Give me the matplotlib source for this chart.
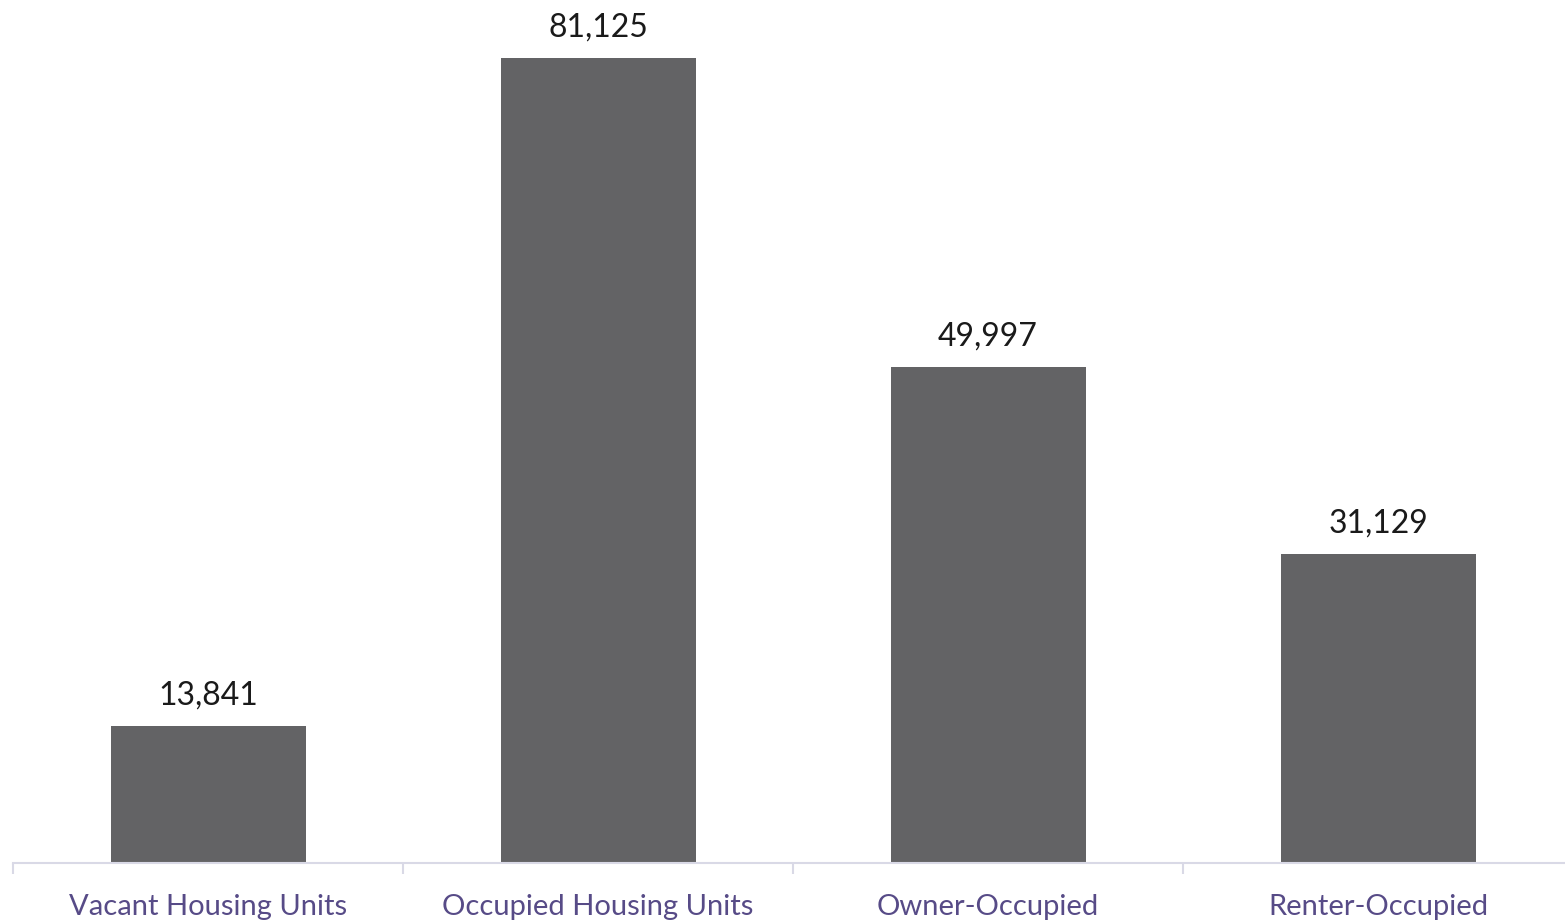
import matplotlib.pyplot as plt

categories = ["Vacant Housing Units", "Occupied Housing Units", "Owner-Occupied", "Renter-Occupied"]
values = [13841, 81125, 49997, 31129]

plt.rcParams['font.family'] = ['Lato', 'DejaVu Sans']

fig = plt.figure(figsize=(15.65, 9.22), dpi=100)
ax = fig.add_axes([13 / 1565, 59 / 922, 1560 / 1565, 863 / 922])

x = range(len(categories))
bars = ax.bar(x, values, width=0.5, color="#636365")

for xi, v in zip(x, values):
    ax.annotate(f"{v:,}", (xi, v), xytext=(0, 11), textcoords="offset points",
                ha="center", va="bottom", fontsize=23, color="#1a1a1a")

ax.set_xlim(-0.5, len(categories) - 0.5)
ax.set_ylim(0, 81125 * 863 / 805)

for side in ["top", "right", "left"]:
    ax.spines[side].set_visible(False)
ax.spines["bottom"].set_color("#d9d9e6")
ax.spines["bottom"].set_linewidth(1.5)

ax.set_yticks([])
ax.set_xticks(x)
ax.set_xticklabels(categories, fontsize=21, color="#574b87")
ax.tick_params(axis="x", length=0, pad=22)

# category separators
ax.set_xticks([i - 0.5 for i in range(len(categories) + 1)], minor=True)
ax.tick_params(axis="x", which="minor", length=8, width=1.5, color="#d9d9e6")

fig.savefig("out.png", dpi=100)
